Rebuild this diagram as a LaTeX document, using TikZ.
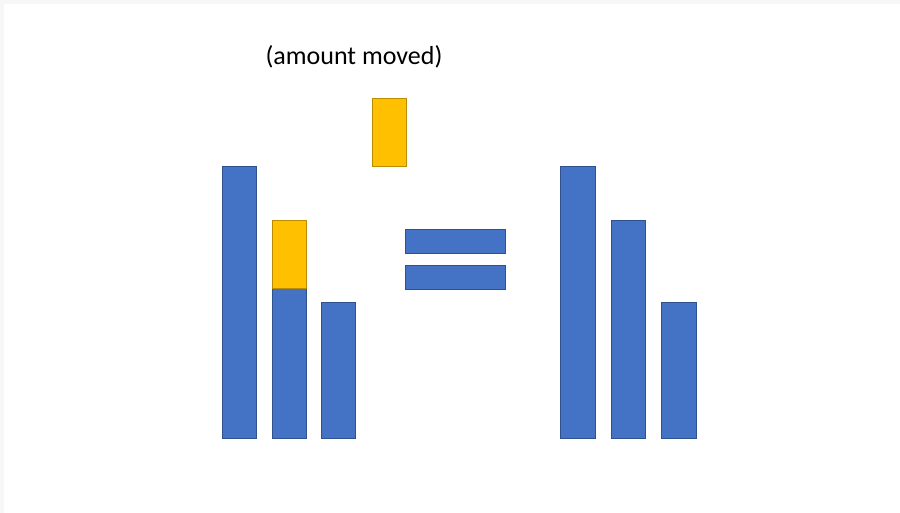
\documentclass[tikz,border=0pt]{standalone}
\usepackage{fontspec}
\setmainfont{Carlito}
\definecolor{barblue}{HTML}{4472C4}
\definecolor{barblueedge}{HTML}{2F528F}
\definecolor{baryellow}{HTML}{FFC000}
\definecolor{baryellowedge}{HTML}{BC8C00}
\definecolor{framegray}{HTML}{F7F7F7}
\begin{document}
\begin{tikzpicture}[x=1pt,y=-1pt,
  bluebar/.style={fill=barblue,draw=barblueedge,line width=0.8pt},
  yellowbar/.style={fill=baryellow,draw=baryellowedge,line width=0.8pt},
  lbl/.style={font=\fontsize{26}{30}\selectfont,text=black,inner sep=0pt}]
\useasboundingbox (0,0) rectangle (900,513);
\fill[white] (0,0) rectangle (900,513);
\fill[framegray] (0,0) rectangle (900,4);
\fill[framegray] (0,0) rectangle (4,513);
% left group
\path[bluebar] (222,166) rectangle (256,438) coordinate (l1);
\path[bluebar] (272,288) rectangle (306,438) coordinate (l2);
\path[yellowbar] (272,220) rectangle (306,288) coordinate (l2y);
\path[bluebar] (321,302) rectangle (355,438) coordinate (l3);
% moved amount
\path[yellowbar] (372,98) rectangle (406,166) coordinate (mv);
% equals sign
\path[bluebar] (405,229) rectangle (505,253) coordinate (eq1);
\path[bluebar] (405,265) rectangle (505,289) coordinate (eq2);
% right group
\path[bluebar] (560,166) rectangle (595,438) coordinate (r1);
\path[bluebar] (611,220) rectangle (645,438) coordinate (r2);
\path[bluebar] (661,302) rectangle (696,438) coordinate (r3);
\node[lbl] (label) at (354,57) {(amount moved)};
\end{tikzpicture}
\end{document}
